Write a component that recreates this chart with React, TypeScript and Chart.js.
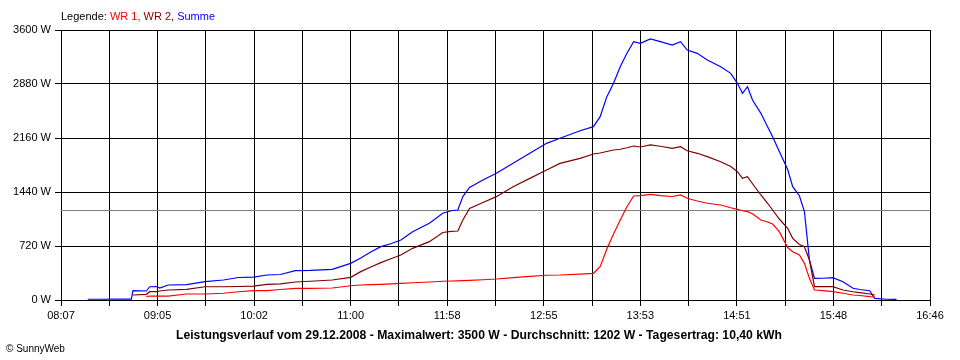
import React, { useEffect, useRef } from "react";
import { Chart, registerables } from "chart.js";

Chart.register(...registerables);

const X_START = "08:07";
const X_END = "16:46";
const X_INTERVALS = 18;
const Y_MAX = 3600;
const Y_STEP = 720;
const AVERAGE_W = 1202;

const TITLE =
  "Leistungsverlauf vom 29.12.2008 - Maximalwert: 3500 W - Durchschnitt: 1202 W - Tagesertrag: 10,40 kWh";
const COPYRIGHT = "© SunnyWeb";
const LEGEND_PREFIX = "Legende: ";
const SERIES_NAMES = ["WR 1", "WR 2", "Summe"];
const SERIES_COLORS = ["#ff0000", "#800000", "#0000ff"];

const TIMES = [
  "08:23", "08:30", "08:40", "08:49", "08:50", "08:58", "09:00", "09:04", "09:06", "09:11",
  "09:22", "09:33", "09:44", "09:53", "10:02", "10:10", "10:18", "10:27", "10:36", "10:49",
  "11:00", "11:06", "11:12", "11:18", "11:24", "11:30", "11:37", "11:47", "11:55", "12:00",
  "12:04", "12:07", "12:11", "12:19", "12:27", "12:37", "12:47", "12:57", "13:05", "13:17",
  "13:25", "13:29", "13:33", "13:37", "13:41", "13:45", "13:49", "13:53", "13:59", "14:05",
  "14:12", "14:17", "14:21", "14:27", "14:33", "14:41", "14:47", "14:51", "14:54", "14:57",
  "15:00", "15:05", "15:09", "15:12", "15:16", "15:21", "15:24", "15:28", "15:31", "15:34",
  "15:37", "15:42", "15:48", "15:54", "16:00", "16:04", "16:10", "16:13", "16:20", "16:26",
];

const WR1 = [
  null, null, null, null, null, 44, 53, 53, 53, 53,
  80, 80, 90, 110, 124, 124, 140, 156, 156, 160,
  190, 200, 205, 209, 215, 222, 230, 240, 250, 253,
  256, 258, 262, 270, 280, 298, 315, 330, 333, 345,
  356, 444, 680, 880, 1067, 1244, 1387, 1391, 1409, 1391,
  1380, 1400, 1356, 1320, 1290, 1267, 1230, 1209, 1190, 1178,
  1150, 1067, 1040, 1013, 911, 700, 644, 600, 489, 289,
  133, 125, 111, 90, 67, 60, 44, 40, null, null,
];

const WR2 = [
  null, null, null, null, 67, 76, 111, 111, 120, 133,
  142, 177, 177, 180, 185, 209, 215, 240, 250, 267,
  302, 378, 440, 498, 550, 600, 689, 778, 900, 915,
  920, 1067, 1220, 1300, 1378, 1511, 1622, 1733, 1822, 1889,
  1947, 1960, 1980, 2000, 2010, 2030, 2053, 2040, 2067, 2050,
  2022, 2044, 1990, 1956, 1911, 1844, 1780, 1711, 1622, 1644,
  1550, 1400, 1290, 1200, 1080, 956, 822, 740, 711, 533,
  178, 178, 178, 133, 110, 98, 80, 67, null, null,
];

const SUMME = [
  10, 10, 12, 12, 124, 120, 177, 180, 160, 200,
  205, 244, 267, 300, 305, 333, 340, 391, 395, 409,
  489, 560, 640, 711, 750, 800, 911, 1022, 1156, 1190,
  1200, 1378, 1502, 1600, 1689, 1822, 1956, 2089, 2156, 2256,
  2311, 2444, 2711, 2889, 3111, 3289, 3444, 3422, 3480, 3444,
  3400, 3444, 3333, 3289, 3200, 3111, 3022, 2889, 2756, 2844,
  2667, 2489, 2311, 2178, 1980, 1740, 1511, 1390, 1180, 533,
  289, 290, 298, 244, 156, 140, 124, 22, 10, 9,
];

const toMin = (t: string) => {
  const [h, m] = t.split(":").map(Number);
  return h * 60 + m;
};
const START_MIN = toMin(X_START);
const SPAN_MIN = toMin(X_END) - START_MIN;

const fmtTime = (v: number) => {
  const total = Math.round(START_MIN + v);
  const h = Math.floor(total / 60);
  const m = total % 60;
  return `${String(h).padStart(2, "0")}:${String(m).padStart(2, "0")}`;
};

const series = [WR1, WR2, SUMME];

const FONT = '"Liberation Sans Narrow", "Liberation Sans", Arial, sans-serif';

export default function App() {
  const ref = useRef<HTMLCanvasElement | null>(null);

  useEffect(() => {
    document.body.style.margin = "0";
    const canvas = ref.current;
    if (!canvas) return;

    const overlay = {
      id: "overlay",
      beforeDatasetsDraw(chart: any) {
        const { ctx, chartArea, scales } = chart;
        const y = Math.round(scales.y.getPixelForValue(AVERAGE_W)) + 0.5;
        ctx.save();
        ctx.strokeStyle = "#808080";
        ctx.lineWidth = 1;
        ctx.beginPath();
        ctx.moveTo(chartArea.left, y);
        ctx.lineTo(chartArea.right, y);
        ctx.stroke();
        ctx.restore();
      },
      afterDraw(chart: any) {
        const { ctx } = chart;
        ctx.save();
        ctx.textBaseline = "middle";
        ctx.textAlign = "left";
        ctx.font = '11px "Liberation Sans", Arial, sans-serif';
        let x = 61;
        const ly = 17;
        ctx.fillStyle = "#000000";
        ctx.fillText(LEGEND_PREFIX, x, ly);
        x += ctx.measureText(LEGEND_PREFIX).width;
        SERIES_NAMES.forEach((name, i) => {
          const txt = i < SERIES_NAMES.length - 1 ? name + ", " : name;
          ctx.fillStyle = SERIES_COLORS[i];
          ctx.fillText(txt, x, ly);
          x += ctx.measureText(txt).width;
        });
        ctx.fillStyle = "#000000";
        ctx.font = 'bold 12.2px "Liberation Sans", Arial, sans-serif';
        ctx.textAlign = "center";
        ctx.fillText(TITLE, 479, 336);
        ctx.font = '10px "Liberation Sans", Arial, sans-serif';
        ctx.textAlign = "left";
        ctx.fillText(COPYRIGHT, 6, 349);
        ctx.restore();
      },
    };

    const chart = new Chart(canvas, {
      type: "line",
      data: {
        datasets: series.map((vals, i) => ({
          label: SERIES_NAMES[i],
          data: TIMES.map((t, j) => ({ x: toMin(t) - START_MIN, y: vals[j] })),
          borderColor: SERIES_COLORS[i],
          backgroundColor: SERIES_COLORS[i],
          borderWidth: 1.2,
          pointRadius: 0,
          tension: 0,
          spanGaps: false,
        })),
      },
      options: {
        responsive: false,
        animation: false,
        events: [],
        layout: { padding: { left: 0, top: 30, right: 30, bottom: 0 } },
        plugins: { legend: { display: false }, tooltip: { enabled: false }, title: { display: false } },
        scales: {
          x: {
            type: "linear",
            min: 0,
            max: SPAN_MIN,
            afterBuildTicks: (scale: any) => {
              scale.ticks = Array.from({ length: X_INTERVALS + 1 }, (_, i) => ({
                value: (i * SPAN_MIN) / X_INTERVALS,
              }));
            },
            afterFit: (scale: any) => {
              scale.height = 60;
            },
            grid: { color: "#000000", lineWidth: 1, tickLength: 6, drawTicks: true },
            border: { color: "#000000", width: 1 },
            ticks: {
              autoSkip: false,
              maxRotation: 0,
              padding: 3,
              color: "#000000",
              font: { family: FONT, size: 11 },
              callback: (v: any, idx: number) => (idx % 2 === 0 ? fmtTime(Number(v)) : ""),
            },
          },
          y: {
            min: 0,
            max: Y_MAX,
            afterFit: (scale: any) => {
              scale.width = 61;
            },
            grid: { color: "#000000", lineWidth: 1, tickLength: 6, drawTicks: true },
            border: { color: "#000000", width: 1 },
            ticks: {
              stepSize: Y_STEP,
              padding: 4,
              color: "#000000",
              font: { family: FONT, size: 11 },
              callback: (v: any) => `${v} W`,
            },
          },
        },
      },
      plugins: [overlay],
    } as any);

    return () => chart.destroy();
  }, []);

  return <canvas ref={ref} width={960} height={360} style={{ display: "block" }} />;
}
